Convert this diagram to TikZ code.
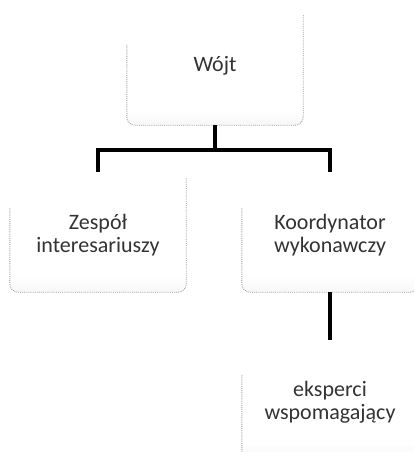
\documentclass[tikz,border=0pt]{standalone}
\usepackage{fontspec}
\setmainfont{Carlito}
\usetikzlibrary{positioning, calc}
\pgfdeclareverticalshading{boxfade}{100bp}{color(0bp)=(gray!50); color(6bp)=(gray!35); color(16bp)=(gray!15); color(32bp)=(white); color(100bp)=(white)}

\begin{document}
\begin{tikzpicture}[x=1pt, y=1pt, font=\fontsize{22}{23}\selectfont]

    \tikzstyle{unit} = [rectangle, rounded corners=8pt, minimum width=176pt, minimum height=114pt, align=center, text=black!80, shading=boxfade]
    \tikzstyle{rim} = [draw=gray!75, densely dotted, line width=0.9pt, rounded corners=8pt]
    \tikzstyle{link} = [draw=black, line width=3.6pt]

    \useasboundingbox (0,0) rectangle (414,-452);

    % Wojt on top
    \node[unit, minimum height=110pt, text depth=12pt] (wojt) at (215,-70) {Wójt};

    % second row
    \node[unit] (zespol) at (98,-235) {Zespół\\interesariuszy};
    \node[unit] (koord) at (330,-235) {Koordynator\\wykonawczy};

    % experts below the coordinator
    \node[unit] (eksp) at (330,-402) {eksperci\\wspomagający};

    % dotted rims, open at the top
    \foreach \b in {wojt, zespol, koord, eksp}
        \draw[rim] ([yshift=-30pt]\b.north west) |- (\b.south) -| (\b.north east);

    % connectors
    \draw[link] (wojt.south) -- ++(0,-25) coordinate (fork);
    \draw[link] ([xshift=-1.8pt]fork -| zespol.north) -- ([xshift=1.8pt]fork -| koord.north);
    \draw[link] (fork -| zespol.north) -- ([yshift=6pt]zespol.north);
    \draw[link] (fork -| koord.north) -- ([yshift=6pt]koord.north);
    \draw[link] (koord.south) -- ([yshift=5pt]eksp.north);
\end{tikzpicture}
\end{document}
